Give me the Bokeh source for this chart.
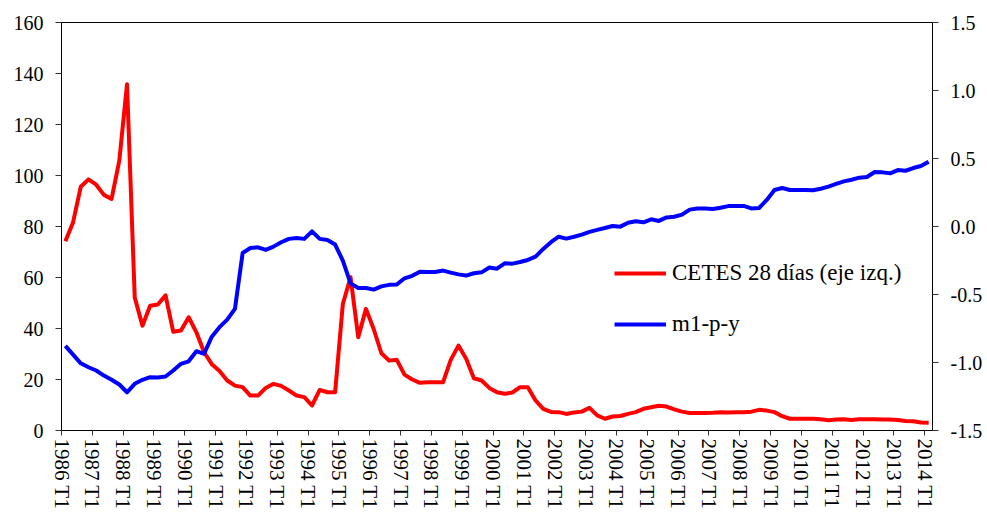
from bokeh.plotting import figure
from bokeh.models import (Range1d, LinearAxis, FixedTicker, PrintfTickFormatter,
                          Legend, LegendItem)
from bokeh.embed import file_html
from bokeh.resources import INLINE

# ---------------- data ----------------
years = list(range(1986, 2015))
quarters = [f"{y} T{q}" for y in years for q in (1, 2, 3, 4)][:113]

cetes = [74.2, 81.6, 95.6, 98.5, 96.4, 92.4, 90.8, 105.8, 135.8, 52.2,
         41.1, 48.9, 49.4, 53.0, 38.7, 39.2, 44.4, 38.5, 30.7, 26.0,
         23.3, 19.6, 17.6, 17.0, 13.7, 13.7, 16.7, 18.3, 17.5, 15.7,
         13.7, 13.1, 9.8, 15.9, 15.0, 15.0, 49.6, 60.1, 36.6, 47.7,
         39.8, 30.3, 27.4, 27.7, 21.9, 20.0, 18.7, 18.9, 18.9, 18.9,
         27.7, 33.3, 28.1, 20.5, 19.6, 16.7, 15.0, 14.4, 14.9, 17.0,
         17.0, 11.8, 8.5, 7.3, 7.2, 6.5, 7.1, 7.4, 8.9, 5.9,
         4.6, 5.5, 5.7, 6.5, 7.2, 8.5, 9.1, 9.7, 9.4, 8.3,
         7.4, 6.9, 6.9, 6.9, 7.0, 7.2, 7.1, 7.2, 7.2, 7.4,
         8.1, 7.8, 7.2, 5.6, 4.6, 4.6, 4.6, 4.6, 4.4, 4.0,
         4.3, 4.4, 4.1, 4.4, 4.4, 4.4, 4.3, 4.3, 4.1, 3.7,
         3.6, 3.1, 3.0]

m1 = [-0.878, -0.942, -1.006, -1.035, -1.059, -1.096, -1.127, -1.162, -1.219, -1.157,
      -1.127, -1.108, -1.110, -1.103, -1.059, -1.010, -0.991, -0.917, -0.936, -0.810,
      -0.740, -0.685, -0.606, -0.195, -0.158, -0.153, -0.172, -0.148, -0.116, -0.091,
      -0.084, -0.091, -0.036, -0.091, -0.099, -0.133, -0.251, -0.418, -0.452, -0.452,
      -0.464, -0.440, -0.429, -0.427, -0.381, -0.363, -0.332, -0.334, -0.334, -0.324,
      -0.339, -0.352, -0.361, -0.344, -0.337, -0.302, -0.310, -0.271, -0.273, -0.261,
      -0.246, -0.222, -0.165, -0.115, -0.075, -0.089, -0.075, -0.060, -0.040, -0.025,
      -0.011, 0.004, -0.001, 0.028, 0.038, 0.031, 0.053, 0.041, 0.067, 0.072,
      0.087, 0.124, 0.133, 0.133, 0.129, 0.138, 0.150, 0.151, 0.151, 0.133,
      0.136, 0.195, 0.268, 0.283, 0.268, 0.268, 0.268, 0.266, 0.278, 0.293,
      0.313, 0.332, 0.344, 0.359, 0.364, 0.401, 0.398, 0.391, 0.415, 0.410,
      0.430, 0.445, 0.476]

left_ticks = [0, 20, 40, 60, 80, 100, 120, 140, 160]
right_ticks = [-1.5, -1.0, -0.5, 0.0, 0.5, 1.0, 1.5]
x_tick_labels = [f"{y} T1" for y in years]

# category positions (centre of each quarter slot)
xpos = [i + 0.5 for i in range(len(quarters))]
xticks = [quarters.index(lbl) for lbl in x_tick_labels]

FONT = "'Liberation Serif', 'DejaVu Serif', serif"

p = figure(width=987, height=518, output_backend="svg", toolbar_location=None,
           x_range=Range1d(0, len(quarters)), y_range=Range1d(0, 160),
           min_border_left=61, min_border_right=55, min_border_top=22,
           min_border_bottom=88)
p.extra_y_ranges = {"m1": Range1d(-1.5, 1.5)}

p.xgrid.visible = False
p.ygrid.visible = False
p.outline_line_color = "black"
p.outline_line_width = 1
p.background_fill_color = "white"
p.border_fill_color = "white"

r1 = p.line(xpos, cetes, color="#ff0000", line_width=4, line_join="round")
r2 = p.line(xpos, m1, color="#0000ff", line_width=4, line_join="round",
            y_range_name="m1")

right_axis = LinearAxis(y_range_name="m1")
p.add_layout(right_axis, "right")


def style(ax, fs):
    ax.axis_line_color = "black"
    ax.axis_line_width = 1
    ax.major_tick_line_color = "#333333"
    ax.major_tick_in = 0
    ax.major_tick_out = 6
    ax.minor_tick_line_color = None
    ax.major_label_text_font = FONT
    ax.major_label_text_font_size = fs
    ax.major_label_text_color = "black"


xa = p.xaxis[0]
style(xa, "21px")
xa.ticker = FixedTicker(ticks=xticks)
xa.major_label_overrides = {t: lbl for t, lbl in zip(xticks, x_tick_labels)}
xa.major_label_orientation = "vertical"
xa.major_tick_out = 5
xa.major_label_standoff = 3

ya = p.yaxis[0]
style(ya, "20px")
ya.ticker = FixedTicker(ticks=left_ticks)
ya.major_label_standoff = 12

style(right_axis, "20px")
right_axis.ticker = FixedTicker(ticks=right_ticks)
right_axis.formatter = PrintfTickFormatter(format="%.1f")
right_axis.major_label_standoff = 12

legend = Legend(items=[LegendItem(label="CETES 28 días (eje izq.)", renderers=[r1]),
                       LegendItem(label="m1-p-y", renderers=[r2])],
                location=(553, 93), border_line_color=None,
                background_fill_alpha=0, padding=0, margin=0, spacing=25,
                glyph_width=52, glyph_height=20, label_height=20,
                label_standoff=6, label_text_font=FONT,
                label_text_font_size="23px", label_text_color="black")
p.add_layout(legend)

open("out.html", "w").write(file_html(p, INLINE))
